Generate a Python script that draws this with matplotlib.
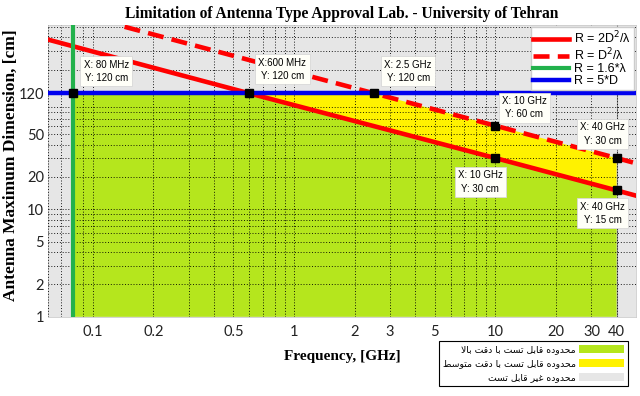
import matplotlib
matplotlib.use("Agg")
import matplotlib.pyplot as plt
from matplotlib.patches import Patch, Polygon
from matplotlib.ticker import FixedLocator, LogLocator, NullFormatter

# R = 2D^2/lambda line (GHz, cm)
freq_2d = [0.06, 0.6, 10, 40, 50]
dim_2d = [380, 120, 30, 15, 13.4]

# R = D^2/lambda line
freq_d2 = [0.144, 2.5, 10, 40, 50]
dim_d2 = [500, 120, 60, 30, 26.8]

# limits: R = 1.6*lambda (lowest freq), R = 5*D (max dimension), highest freq
f_min = 0.08
f_max = 40
d_max = 120

# data tips (x, y, text)
tip_x = [0.08, 0.6, 2.5, 10, 40, 10, 40]
tip_y = [120, 120, 120, 60, 30, 30, 15]
tip_text = ["X: 80 MHz\nY: 120 cm", "X:600 MHz\nY: 120 cm", "X: 2.5 GHz\nY: 120 cm",
            "X: 10 GHz\nY: 60 cm", "X: 40 GHz\nY: 30 cm", "X: 10 GHz\nY: 30 cm",
            "X: 40 GHz\nY: 15 cm"]
tip_offset = [(33, 22), (33, 24), (34, 22), (29, 18), (-14, 24), (-15, -24), (-14, -23)]

x_ticks = [0.1, 0.2, 0.5, 1, 2, 3, 5, 10, 20, 30, 40]
y_ticks = [1, 2, 5, 10, 20, 50, 120]

zone_labels = ["محدوده قابل تست با دقت بالا",
               "محدوده قابل تست با دقت متوسط",
               "محدوده غیر قابل تست"]

green_fill = "#b5e61d"
yellow_fill = "#fff200"
gray_bg = "#e6e6e6"


# matplotlib has no arabic shaping, so pick the presentation forms by hand
# forms: isolated, final, initial, medial (None = letter does not join forward)
FORMS = {
    "ا": ("\uFE8D", "\uFE8E", None, None),
    "ب": ("\uFE8F", "\uFE90", "\uFE91", "\uFE92"),
    "ت": ("\uFE95", "\uFE96", "\uFE97", "\uFE98"),
    "ح": ("\uFEA1", "\uFEA2", "\uFEA3", "\uFEA4"),
    "د": ("\uFEA9", "\uFEAA", None, None),
    "ر": ("\uFEAD", "\uFEAE", None, None),
    "س": ("\uFEB1", "\uFEB2", "\uFEB3", "\uFEB4"),
    "ط": ("\uFEC1", "\uFEC2", "\uFEC3", "\uFEC4"),
    "غ": ("\uFECD", "\uFECE", "\uFECF", "\uFED0"),
    "ق": ("\uFED5", "\uFED6", "\uFED7", "\uFED8"),
    "ل": ("\uFEDD", "\uFEDE", "\uFEDF", "\uFEE0"),
    "م": ("\uFEE1", "\uFEE2", "\uFEE3", "\uFEE4"),
    "ه": ("\uFEE9", "\uFEEA", "\uFEEB", "\uFEEC"),
    "و": ("\uFEED", "\uFEEE", None, None),
    "ی": ("\uFEEF", "\uFEF0", "\uFEF3", "\uFEF4"),
}


def shape(text):
    out = []
    chars = list(text)
    i = 0
    while i < len(chars):
        c = chars[i]
        if c not in FORMS:
            out.append(c)
            i += 1
            continue
        prev = chars[i - 1] if i > 0 else ""
        join_prev = prev in FORMS and FORMS[prev][2] is not None
        # lam + alef ligature
        if c == "ل" and i + 1 < len(chars) and chars[i + 1] == "ا":
            out.append("\uFEFC" if join_prev else "\uFEFB")
            i += 2
            continue
        nxt = chars[i + 1] if i + 1 < len(chars) else ""
        join_next = FORMS[c][2] is not None and nxt in FORMS
        iso, fin, ini, med = FORMS[c]
        if join_prev and join_next:
            out.append(med)
        elif join_prev:
            out.append(fin)
        elif join_next:
            out.append(ini)
        else:
            out.append(iso)
        i += 1
    return "".join(out)[::-1]


fig = plt.figure(figsize=(6.4, 3.96), dpi=100)
ax = fig.add_axes([0.075, 0.2, 0.919, 0.737])
ax.set_facecolor(gray_bg)
ax.set_xscale("log")
ax.set_yscale("log")
ax.set_xlim(0.06, 50)
ax.set_ylim(1, 520)

# testable regions
green_verts = [(f_min, 1), (f_min, d_max)] + list(zip(freq_2d[1:4], dim_2d[1:4])) + [(f_max, 1)]
yellow_verts = list(zip(freq_d2[1:4], dim_d2[1:4])) + list(zip(freq_2d[3:0:-1], dim_2d[3:0:-1]))
ax.add_patch(Polygon(green_verts, closed=True, facecolor=green_fill, edgecolor="none", zorder=1))
ax.add_patch(Polygon(yellow_verts, closed=True, facecolor=yellow_fill, edgecolor="none", zorder=1))
ax.axvline(f_max, color="#909090", lw=0.8, zorder=1.5)

ax.grid(True, which="both", color="black", linestyle=(0, (1.2, 2.2)), linewidth=0.6)
ax.set_axisbelow(False)

ax.plot(freq_2d, dim_2d, color="#ff0000", lw=3.3, zorder=3, label="R = 2D$^2$/λ")
ax.plot(freq_d2, dim_d2, color="#ff0000", lw=3.3, ls=(0, (3.5, 1.8)), zorder=3, label="R = D$^2$/λ")
ax.axvline(f_min, color="#22b14c", lw=3.0, zorder=3, label="R = 1.6*λ")
ax.axhline(d_max, color="#0000ee", lw=3.2, zorder=3, label="R = 5*D")

for x, y, t, off in zip(tip_x, tip_y, tip_text, tip_offset):
    ax.plot(x, y, "s", color="black", ms=6, zorder=6)
    ax.annotate(t, (x, y), xytext=off, textcoords="offset pixels", ha="center", va="center",
                fontsize=7, family="Liberation Sans", linespacing=1.4, zorder=9,
                bbox=dict(boxstyle="square,pad=0.35", fc="#fffff8", ec="#d8d8d8", lw=0.6))

ax.xaxis.set_major_locator(FixedLocator(x_ticks))
ax.xaxis.set_minor_locator(LogLocator(base=10, subs=range(2, 10)))
ax.xaxis.set_minor_formatter(NullFormatter())
ax.set_xticklabels([f"{v:g}" for v in x_ticks])
ax.yaxis.set_major_locator(FixedLocator(y_ticks))
ax.yaxis.set_minor_locator(LogLocator(base=10, subs=range(2, 10)))
ax.yaxis.set_minor_formatter(NullFormatter())
ax.set_yticklabels([f"{v:g}" for v in y_ticks])
ax.tick_params(which="both", length=0, labelsize=10.5, colors="#222222")
ax.tick_params(axis="x", pad=6)
ax.tick_params(axis="y", pad=3)
for lab in ax.get_xticklabels() + ax.get_yticklabels():
    lab.set_family("Lato")
for s in ax.spines.values():
    s.set_color("#cccccc")
    s.set_linewidth(0.6)

ax.set_title("Limitation of Antenna Type Approval Lab. - University of Tehran",
             family="Liberation Serif", fontweight="bold", fontsize=11.2, pad=5)
ax.set_xlabel("Frequency, [GHz]", family="Liberation Serif", fontweight="bold", fontsize=11, labelpad=8)
ax.set_ylabel("Antenna Maximum Dimension, [cm]", family="Liberation Serif", fontweight="bold",
              fontsize=12.5)
ax.yaxis.set_label_coords(-0.05, 0.52)

leg = ax.legend(loc="upper right", bbox_to_anchor=(1.0, 1.0), borderaxespad=0.2,
                prop={"family": "Liberation Sans", "size": 9}, handlelength=2.9,
                labelspacing=0.0, borderpad=0.2, handletextpad=0.4,
                fancybox=False, framealpha=1, edgecolor="#cccccc")
leg.set_zorder(8)

zone_handles = [Patch(facecolor=green_fill), Patch(facecolor=yellow_fill), Patch(facecolor=gray_bg)]
fig.legend(zone_handles, [shape(t) for t in zone_labels], loc="upper right",
           bbox_to_anchor=(0.981, 0.139), markerfirst=False, fancybox=False,
           edgecolor="black", framealpha=1, prop={"family": "DejaVu Sans", "size": 6.7},
           handlelength=4.8, handleheight=1.0, labelspacing=0.5, borderpad=0.4,
           handletextpad=0.4, borderaxespad=0).get_frame().set_linewidth(0.8)

fig.savefig("out.png", dpi=100)
